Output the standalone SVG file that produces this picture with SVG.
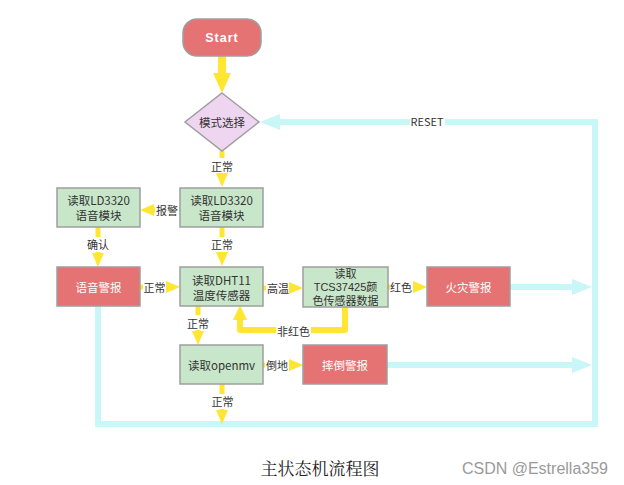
<svg xmlns="http://www.w3.org/2000/svg" width="624" height="485" viewBox="0 0 624 485">
<style>
.node{stroke:#9e9e9e;stroke-width:1.5}
.g{fill:#c8e6c9}
.r{fill:#e57373}
.t{font-family:"Noto Sans CJK SC","Liberation Sans",sans-serif;font-size:11.5px;fill:#333;text-anchor:middle;dominant-baseline:central}
.ts{font-family:"Liberation Sans","Noto Sans CJK SC",sans-serif;font-size:11px}
.lb{font-family:"Noto Sans CJK SC","Liberation Sans",sans-serif;font-size:11px;fill:#333;text-anchor:middle;dominant-baseline:central}
.y{fill:none;stroke:#ffe633;stroke-width:5}
.c{fill:none;stroke:#c9f6f6;stroke-width:6}
.bg{fill:#fff}
</style>
<defs>
<marker id="ybig" viewBox="0 0 20 18" refX="0" refY="9" markerWidth="20" markerHeight="18" markerUnits="userSpaceOnUse" orient="auto"><path d="M0,0 L20,9 L0,18z" fill="#ffe633"/></marker>
<marker id="ys" viewBox="0 0 14 12" refX="0" refY="6" markerWidth="14" markerHeight="12" markerUnits="userSpaceOnUse" orient="auto"><path d="M0,0 L14,6 L0,12z" fill="#ffe633"/></marker>
<marker id="ym" viewBox="0 0 15 14" refX="0" refY="7" markerWidth="15" markerHeight="14" markerUnits="userSpaceOnUse" orient="auto"><path d="M0,0 L15,7 L0,14z" fill="#ffe633"/></marker>
<marker id="cy" viewBox="0 0 20 16" refX="0" refY="8" markerWidth="20" markerHeight="16" markerUnits="userSpaceOnUse" orient="auto"><path d="M0,0 L20,8 L0,16z" fill="#c9f6f6"/></marker>
</defs>

<g id="connectors">
<path class="c" d="M98,306 V424 H595 V122 H280" marker-end="url(#cy)" stroke-linejoin="miter"/>
<path class="c" d="M510,287 H572" marker-end="url(#cy)"/>
<path class="c" d="M387,365 H572" marker-end="url(#cy)"/>
<path class="y" d="M222,56 V73" style="stroke-width:8" marker-end="url(#ybig)"/>
<path class="y" d="M222,151 V173" marker-end="url(#ys)"/>
<path class="y" d="M180,210 H154" marker-end="url(#ys)"/>
<path class="y" d="M222,227 V252" marker-end="url(#ys)"/>
<path class="y" d="M98,227 V253" marker-end="url(#ys)"/>
<path class="y" d="M140,287 H166" marker-end="url(#ys)"/>
<path class="y" d="M263,288 H289" marker-end="url(#ys)"/>
<path class="y" d="M388,287 H413" marker-end="url(#ys)"/>
<path class="y" d="M345,307 V330 H240 V320" style="stroke-width:6" stroke-linejoin="round" marker-end="url(#ym)"/>
<path class="y" d="M198,306 V331" marker-end="url(#ys)"/>
<path class="y" d="M263,365 H289" marker-end="url(#ys)"/>
<path class="y" d="M222,384 V410" marker-end="url(#ys)"/>
<g id="labels">
<rect class="bg" x="410" y="114" width="35" height="15"/><text class="lb" x="427" y="121">RESET</text>
<rect class="bg" x="210" y="158" width="24" height="15"/><text class="lb" x="222" y="166">正常</text>
<rect class="bg" x="155" y="202" width="24" height="16"/><text class="lb" x="167" y="210">报警</text>
<rect class="bg" x="210" y="237" width="24" height="15"/><text class="lb" x="222" y="244">正常</text>
<rect class="bg" x="86" y="237" width="24" height="15"/><text class="lb" x="98" y="244">确认</text>
<rect class="bg" x="143" y="279" width="23" height="16"/><text class="lb" x="154.5" y="287">正常</text>
<rect class="bg" x="266" y="280" width="23" height="16"/><text class="lb" x="278" y="288">高温</text>
<rect class="bg" x="390" y="279" width="23" height="16"/><text class="lb" x="401" y="287">红色</text>
<rect class="bg" x="276" y="323" width="35" height="16"/><text class="lb" x="293.5" y="331">非红色</text>
<rect class="bg" x="186" y="315" width="24" height="15"/><text class="lb" x="198" y="323">正常</text>
<rect class="bg" x="265" y="357" width="24" height="16"/><text class="lb" x="277" y="365">倒地</text>
<rect class="bg" x="210" y="394" width="25" height="15"/><text class="lb" x="222.5" y="401">正常</text>
</g>
</g>

<g id="start">
<rect class="node r" x="183" y="19" width="78" height="37" rx="14"/>
<text x="222" y="38" style="font-family:'Liberation Sans',sans-serif;font-size:12.5px;font-weight:bold;fill:#fff;text-anchor:middle;dominant-baseline:central;letter-spacing:1px">Start</text>
</g>
<g id="mode">
<polygon class="node" points="222,93 259,122 222,151 185,122" fill="#eed6f0"/>
<text class="t" x="222" y="122">模式选择</text>
</g>
<g id="ld3320_main">
<rect class="node g" x="180" y="188" width="83" height="39"/>
<text class="t" x="221.5" y="200">读取LD3320</text>
<text class="t" x="221.5" y="215">语音模块</text>
</g>
<g id="ld3320_left">
<rect class="node g" x="57" y="188" width="83" height="39"/>
<text class="t" x="98.5" y="200">读取LD3320</text>
<text class="t" x="98.5" y="215">语音模块</text>
</g>
<g id="voice_alarm">
<rect class="node r" x="57" y="267" width="83" height="39"/>
<text class="t" x="98.5" y="287" style="fill:#fff">语音警报</text>
</g>
<g id="dht11">
<rect class="node g" x="180" y="267" width="83" height="39"/>
<text class="t" x="221.5" y="280">读取DHT11</text>
<text class="t" x="221.5" y="295">温度传感器</text>
</g>
<g id="tcs">
<rect class="node g" x="303" y="267" width="85" height="40"/>
<text class="t ts" x="345.5" y="273.5">读取</text>
<text class="t ts" x="345.5" y="287">TCS37425颜</text>
<text class="t ts" x="345.5" y="300.5">色传感器数据</text>
</g>
<g id="fire_alarm">
<rect class="node r" x="427" y="267" width="83" height="39"/>
<text class="t" x="468.5" y="287" style="fill:#fff">火灾警报</text>
</g>
<g id="openmv">
<rect class="node g" x="180" y="345" width="83" height="39"/>
<text class="t" x="221.5" y="365">读取openmv</text>
</g>
<g id="fall_alarm">
<rect class="node r" x="303" y="345" width="84" height="39"/>
<text class="t" x="345" y="365" style="fill:#fff">摔倒警报</text>
</g>

<text x="320" y="467" style="font-family:'Noto Serif CJK SC','Noto Sans CJK SC',serif;font-size:17px;fill:#222;text-anchor:middle;dominant-baseline:central">主状态机流程图</text>
<text x="608" y="468" style="font-family:'Liberation Sans',sans-serif;font-size:16px;fill:#9a9a9a;text-anchor:end;dominant-baseline:central">CSDN @Estrella359</text>
</svg>
